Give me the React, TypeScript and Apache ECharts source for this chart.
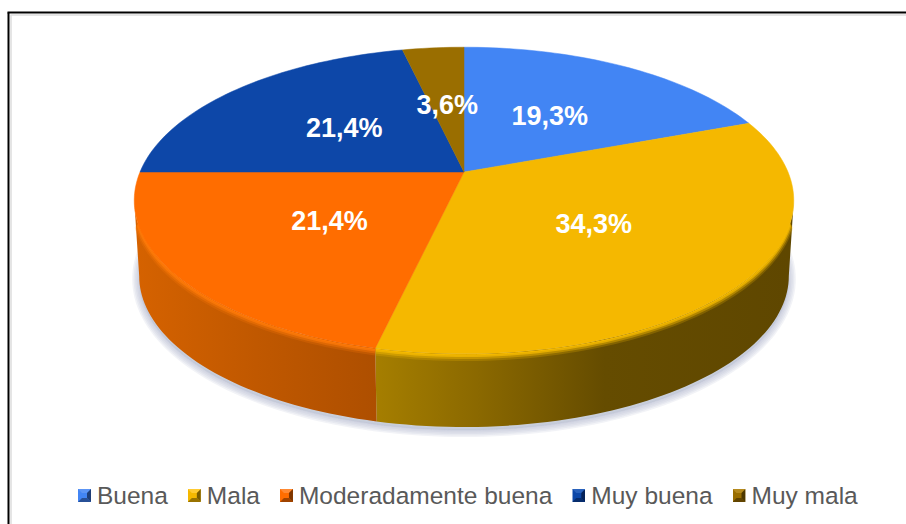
import React, { useEffect, useRef } from "react";
import * as echarts from "echarts";

const categories = ["Buena", "Mala", "Moderadamente buena", "Muy buena", "Muy mala"];
const shares = [19.3, 34.3, 21.4, 21.4, 3.6];
const labels = ["19,3%", "34,3%", "21,4%", "21,4%", "3,6%"];
const topColors = ["#4285F4", "#F5B800", "#FF6D00", "#0D47A8", "#9A6E00"];
const swatchDark = ["#1F3F78", "#7A5C00", "#7F3600", "#062358", "#4D3700"];
const swatchLight = ["#5C95F5", "#FFCB33", "#FF8A33", "#2A62BC", "#B58A1E"];

// perspective disc geometry
const CX = 464;
const CY = 172;
const A = 324;
const B = 148;
const K = -0.186;
const RAD = Math.PI / 180;
const FRONT_FROM = Math.acos(K) / RAD; // silhouette angle on the right
const FRONT_TO = 360 - FRONT_FROM;
const ELL_MID = 200.5;
const WALL_SCALE = 0.985;
const WALL_MID = 276;

type Pt = [number, number];
const project = (deg: number, r = 1): Pt => {
  const u = Math.sin(deg * RAD) * r;
  const v = -Math.cos(deg * RAD) * r;
  const d = 1 + K * v;
  return [CX + (A * u) / d, CY + (B * v) / d];
};
const lower = (p: Pt): Pt => [CX + (p[0] - CX) * WALL_SCALE, WALL_MID + (p[1] - ELL_MID) * WALL_SCALE];
const arc = (from: number, to: number): Pt[] => {
  const n = Math.max(2, Math.ceil((to - from) / 1.5));
  const out: Pt[] = [];
  for (let i = 0; i <= n; i++) out.push(project(from + ((to - from) * i) / n));
  return out;
};

const total = shares.reduce((a, b) => a + b, 0);
const angles = shares.map((_, i) => {
  const before = shares.slice(0, i).reduce((a, b) => a + b, 0);
  return [(before / total) * 360, ((before + shares[i]) / total) * 360];
});

const wallFills: any[] = [
  null,
  [[0, "#A57E00"], [0.25, "#8A6800"], [0.55, "#654C00"], [1, "#5F4700"]],
  [[0, "#D56200"], [0.5, "#C05800"], [1, "#AE4F00"]],
  null,
  null,
];
const wallSpan: Pt[] = [[0, 0], [377, 790], [136, 377], [0, 0], [0, 0]];
const rimGlow = ["", "#F8BC00", "#FF7A08", "", ""];

const swatch = (i: number) => {
  const c = topColors[i];
  const svg = `<svg xmlns="http://www.w3.org/2000/svg" width="13" height="13" viewBox="0 0 13 13"><rect width="13" height="13" fill="${c}"/><polygon points="0,0 13,0 9,4 4,4" fill="${swatchLight[i]}"/><polygon points="13,0 13,13 9,9 9,4" fill="${swatchDark[i]}"/><polygon points="0,13 13,13 9,9 4,9" fill="${swatchDark[i]}" opacity="0.75"/></svg>`;
  return "image://data:image/svg+xml;charset=utf-8," + encodeURIComponent(svg);
};

function renderSlice(i: number) {
  return () => {
    const [start, end] = angles[i];
    const children: any[] = [];
    const from = Math.max(start, FRONT_FROM);
    const to = Math.min(end, FRONT_TO);
    if (to > from && wallFills[i]) {
      const top = arc(from, to);
      const bottom = top.map(lower).reverse();
      children.push({
        type: "polygon",
        shape: { points: [...top, ...bottom] },
        style: {
          fill: {
            type: "linear",
            x: wallSpan[i][0],
            y: 0,
            x2: wallSpan[i][1],
            y2: 0,
            global: true,
            colorStops: wallFills[i].map((s: any) => ({ offset: s[0], color: s[1] })),
          },
        },
      });
      // soft bevel just below the rim, kept away from the silhouette tips
      const bevelFrom = Math.max(from, FRONT_FROM + 8);
      const bevelTo = Math.min(to, FRONT_TO - 8);
      const rim = arc(bevelFrom, bevelTo);
      [
        [4, 6.5, 0.22],
        [3, 4.5, 0.4],
        [2, 2.5, 0.7],
        [1, 1, 0.95],
      ].forEach(([dy, w, o]) => {
        children.push({
          type: "polyline",
          shape: { points: rim.map((p) => [p[0], p[1] + dy]) },
          style: { stroke: rimGlow[i], lineWidth: w, opacity: o, fill: "none", lineCap: "butt" },
        });
      });
    }
    const c = topColors[i];
    children.push({
      type: "polygon",
      shape: { points: [[CX, CY], ...arc(start, end)] },
      style: { fill: c, stroke: c, lineWidth: 0.5 },
    });
    const lp = project((start + end) / 2, 0.5);
    children.push({
      type: "text",
      z2: 50,
      style: {
        text: labels[i],
        x: lp[0],
        y: lp[1],
        align: "center",
        verticalAlign: "middle",
        fill: "#FFFFFF",
        font: "bold 27px 'Liberation Sans'",
      },
    });
    return { type: "group", children };
  };
}

function renderShadow() {
  const pts = arc(0, 360).map(lower).map((p) => [p[0], p[1] + 3]);
  const layers = [14, 11, 8, 5, 2].map((w) => ({
    type: "polygon",
    shape: { points: pts },
    style: { fill: "#C8CBDC", stroke: "#AEB2CC", lineWidth: w, opacity: 0.16 },
  }));
  return { type: "group", children: layers };
}

export default function App() {
  const ref = useRef<HTMLDivElement>(null);
  useEffect(() => {
    const chart = echarts.init(ref.current!, undefined, { renderer: "svg" });
    chart.setOption({
      animation: false,
      backgroundColor: "#FFFFFF",
      legend: {
        left: 78,
        top: 483,
        padding: 0,
        orient: "horizontal",
        itemWidth: 13,
        itemHeight: 13,
        itemGap: 20,
        selectedMode: false,
        textStyle: { color: "#595959", fontSize: 24.5, fontFamily: "Liberation Sans", padding: [0, 0, 0, 1] },
        data: categories.map((name, i) => ({ name, icon: swatch(i) })),
      },
      graphic: [
        { type: "line", z: -1, shape: { x1: 7.5, y1: 12.5, x2: 906, y2: 12.5 }, style: { stroke: "#000000", lineWidth: 2 } },
        { type: "line", z: -1, shape: { x1: 8.5, y1: 12.5, x2: 8.5, y2: 524 }, style: { stroke: "#000000", lineWidth: 2 } },
        { type: "line", z: -1, shape: { x1: 10.5, y1: 15, x2: 906, y2: 15 }, style: { stroke: "#DDDDDD", lineWidth: 1.5 } },
        { type: "line", z: -1, shape: { x1: 11, y1: 15, x2: 11, y2: 524 }, style: { stroke: "#DDDDDD", lineWidth: 1.5 } },
      ],
      series: [
        { type: "custom", name: "__shadow", coordinateSystem: "none", silent: true, data: [[0]], renderItem: renderShadow },
        ...categories.map((name, i) => ({
          type: "custom",
          name,
          coordinateSystem: "none",
          silent: true,
          itemStyle: { color: topColors[i] },
          data: [[shares[i]]],
          renderItem: renderSlice(i),
        })),
      ],
    });
    return () => chart.dispose();
  }, []);
  return (
    <div
      ref={ref}
      style={{ position: "absolute", left: 0, top: 0, width: 906, height: 524 }}
    />
  );
}
